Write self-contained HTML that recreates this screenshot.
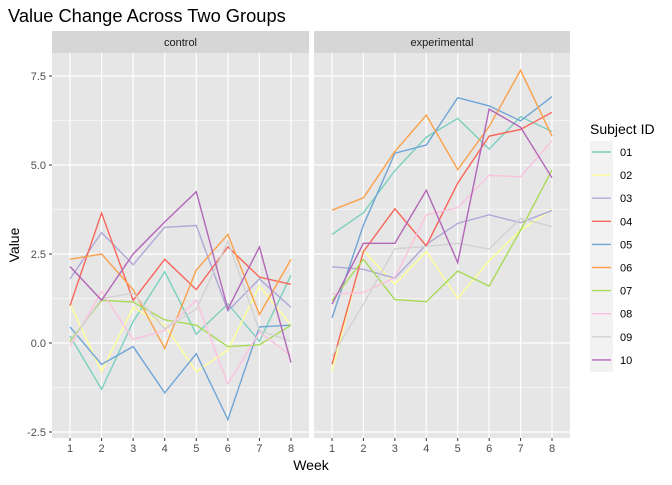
<!DOCTYPE html>
<html><head><meta charset="utf-8"><style>
body{margin:0;background:#fff;font-family:"Liberation Sans",sans-serif;}
svg text{font-family:"Liberation Sans",sans-serif;}
</style></head><body>
<svg id="c" width="672" height="480"></svg>
<script>
const weeks=[1,2,3,4,5,6,7,8];
const subjects=['01','02','03','04','05','06','07','08','09','10'];
const colors=['#7BD0BE','#FFFF99','#AFA8D8','#F8665A','#6FA5D6','#FBA04A','#A8DA55','#FBC2DF','#D2D2D2','#B266B8'];
const controlVals=[
[0.2,-1.3,0.6,2.0,0.25,1.1,0.05,1.9],
[1.1,-0.8,1.0,0.5,-0.8,-0.2,1.6,0.5],
[1.8,3.1,2.2,3.25,3.3,0.9,1.8,1.0],
[1.05,3.65,1.2,2.35,1.5,2.7,1.85,1.65],
[0.45,-0.6,-0.1,-1.4,-0.3,-2.15,0.45,0.5],
[2.35,2.5,1.5,-0.15,2.05,3.05,0.8,2.35],
[0.05,1.2,1.15,0.65,0.5,-0.1,-0.05,0.5],
[-0.1,1.45,0.1,0.35,1.2,-1.15,0.3,-0.35],
[0.0,1.25,1.4,0.4,0.95,2.85,0.35,0.05],
[2.15,1.2,2.5,3.4,4.25,0.95,2.7,-0.55]];
const expVals=[
[3.05,3.66,4.84,5.78,6.31,5.45,6.36,5.94],
[-0.8,2.6,1.65,2.57,1.25,2.31,3.17,3.75],
[2.14,2.07,1.82,2.77,3.36,3.6,3.38,3.72],
[-0.6,2.57,3.77,2.73,4.49,5.81,6.0,6.48],
[0.71,3.31,5.33,5.56,6.89,6.66,6.24,6.92],
[3.73,4.08,5.38,6.4,4.87,6.08,7.66,5.81],
[1.19,2.35,1.22,1.16,2.02,1.6,3.17,4.86],
[1.37,1.42,1.84,3.6,3.8,4.71,4.67,5.68],
[-0.37,1.09,2.65,2.71,2.8,2.64,3.5,3.27],
[1.09,2.8,2.8,4.29,2.26,6.57,6.06,4.64]];
const yTicks=[-2.5,0,2.5,5,7.5];
const yTickLabels=['-2.5','0.0','2.5','5.0','7.5'];
const panels=[{name:'control',x0:52,x1:309,vals:controlVals},{name:'experimental',x0:314,x1:570,vals:expVals}];
const NS='http://www.w3.org/2000/svg';
const svg=document.getElementById('c');
function el(t,a,p){const e=document.createElementNS(NS,t);for(const k in a)e.setAttribute(k,a[k]);(p||svg).appendChild(e);return e;}
const pT=53,pB=438;
const y=v=>343-v*35.6;
function txt(s,a){const e=el('text',a);e.textContent=s;return e;}
let t=txt('Value Change Across Two Groups',{x:8,y:22,'font-size':18.3,fill:'#000'});

panels.forEach((p,pi)=>{
  const x=w=>p.x0+18+(w-1)*(p.x1-p.x0-36)/7;
  const g=el('g',{});
  
  el('rect',{x:p.x0,y:pT,width:p.x1-p.x0,height:pB-pT,fill:'#E6E6E6'},g);
  const s=el('rect',{x:p.x0,y:31,width:p.x1-p.x0,height:22,fill:'#D6D6D6'},g);
  
  const st=el('text',{x:(p.x0+p.x1)/2,y:46,'font-size':11,fill:'#1A1A1A','text-anchor':'middle'},g);st.textContent=p.name;
  for(let i=0;i<yTicks.length-1;i++){const m=(yTicks[i]+yTicks[i+1])/2;el('line',{x1:p.x0,x2:p.x1,y1:y(m),y2:y(m),stroke:'#fff','stroke-width':0.6},g);}
  yTicks.forEach(v=>el('line',{x1:p.x0,x2:p.x1,y1:y(v),y2:y(v),stroke:'#fff','stroke-width':1.2},g));
  weeks.forEach(w=>{el('line',{x1:x(w),x2:x(w),y1:pT,y2:pB,stroke:'#fff','stroke-width':1.2},g);
    el('line',{x1:x(w),x2:x(w),y1:pB,y2:pB+3,stroke:'#333'},g);
    const tl=el('text',{x:x(w),y:pB+14,'font-size':11,fill:'#4D4D4D','text-anchor':'middle'},g);tl.textContent=w;});
  p.vals.forEach((vs,si)=>{
    const pl=el('polyline',{points:vs.map((v,i)=>x(weeks[i])+','+y(v)).join(' '),fill:'none',stroke:colors[si],'stroke-width':1.4},g);
    
    
  });
});
yTicks.forEach((v,i)=>{el('line',{x1:49,x2:52,y1:y(v),y2:y(v),stroke:'#333'});
  const tl=txt(yTickLabels[i],{x:46,y:y(v)+4,'font-size':11,fill:'#4D4D4D','text-anchor':'end'});
  });
t=txt('Week',{x:311,y:470,'font-size':14,'text-anchor':'middle',fill:'#000'});

t=txt('Value',{x:19,y:245,'font-size':14,'text-anchor':'middle',fill:'#000',transform:'rotate(-90 19 245)'});

const lg=el('g',{});
const lt=el('text',{x:590,y:134,'font-size':14,fill:'#000'},lg);lt.textContent='Subject ID';
el('rect',{x:590,y:141,width:23,height:231,fill:'#F2F2F2'},lg);
subjects.forEach((s,i)=>{const yy=152+i*23.1;
  const e=el('g',{},lg);
  el('line',{x1:592,x2:611,y1:yy,y2:yy,stroke:colors[i],'stroke-width':1.4},e);
  const tx=el('text',{x:620,y:yy+4,'font-size':11,fill:'#000'},e);tx.textContent=s;});
</script>
</body></html>
